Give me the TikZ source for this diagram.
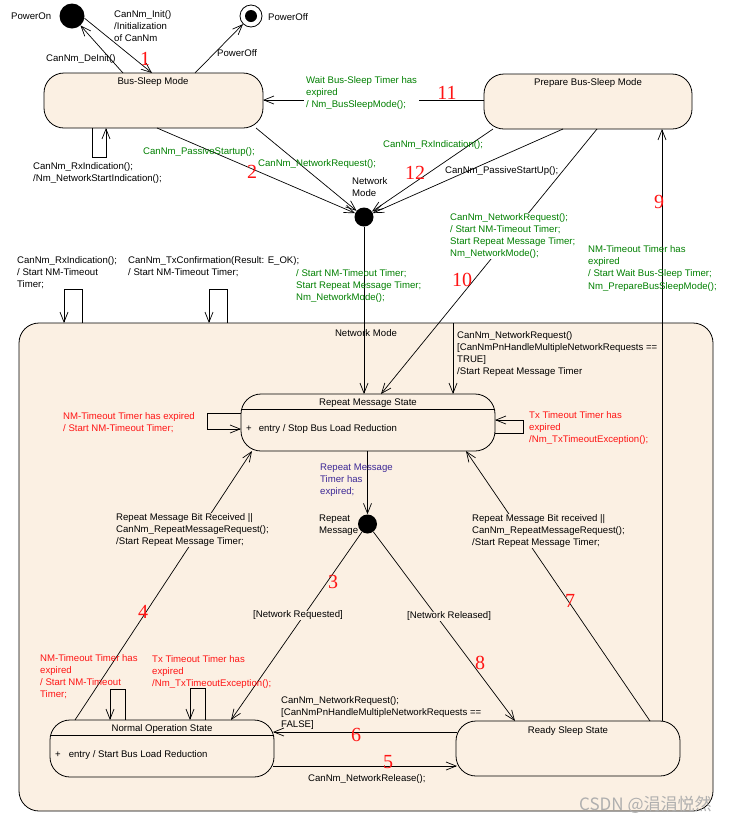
\documentclass[tikz,border=0pt]{standalone}
\usepackage{fontspec}
\setmainfont{Liberation Sans}
\newfontfamily\numfont{Liberation Serif}
\newfontfamily\cjkfont{Noto Sans CJK SC}
\usetikzlibrary{arrows.meta}
\definecolor{bg}{RGB}{251,240,227}
\definecolor{grn}{RGB}{0,128,0}
\definecolor{rd}{RGB}{255,20,20}
\definecolor{pur}{RGB}{60,40,150}
\definecolor{wm}{RGB}{175,175,175}
\begin{document}
\begin{tikzpicture}[x=1pt,y=-1pt,
  txt/.style={font=\fontsize{9.6}{12.2}\selectfont, inner sep=0pt},
  lbl/.style={txt, anchor=base west, align=left},
  num/.style={text=rd, font=\numfont\fontsize{20}{20}\selectfont, inner sep=0pt},
  box/.style={draw, fill=bg, rounded corners=20pt, line width=0.8pt, inner sep=0pt},
  arr/.style={-{Straight Barb[length=10pt,width=8pt]}, line width=0.7pt},
  ln/.style={line width=0.7pt},
  chc/.style={circle, fill=black, inner sep=0pt, minimum size=19pt}]
\useasboundingbox (0,0) rectangle (732,823);
\fill[white] (0,0) rectangle (732,823);

% composite state
\node[box, minimum width=694pt, minimum height=488pt] (nm) at (366,567) {};
\node[txt] (nmt) at (366,333) {Network Mode};

% states
\node[box, minimum width=219pt, minimum height=55pt] (bs) at (153.5,100.5) {};
\node[txt] (bst) at (153,82) {Bus-Sleep Mode};
\node[box, minimum width=208pt, minimum height=55pt] (pbs) at (588,101.5) {};
\node[txt] (pbst) at (588,83) {Prepare Bus-Sleep Mode};
\node[box, minimum width=254pt, minimum height=57pt] (rms) at (368,422.5) {};
\draw[ln] (241,409) -- (495,409);
\node[txt] (rmst) at (368,403.5) {Repeat Message State};
\node[txt, anchor=west] (rmse) at (246,429) {+\hspace{7pt}entry / Stop Bus Load Reduction};
\node[box, minimum width=224pt, minimum height=57pt] (nos) at (162,748.5) {};
\draw[ln] (50,735) -- (274,735);
\node[txt] (nost) at (162,729.5) {Normal Operation State};
\node[txt, anchor=west] (nose) at (55,755) {+\hspace{8pt}entry / Start Bus Load Reduction};
\node[box, minimum width=224pt, minimum height=55pt] (rss) at (568,748.5) {};
\node[txt] (rsst) at (568,731) {Ready Sleep State};

% pseudostates
\node[chc] (nmc) at (364,217) {};
\node[chc] (rmc) at (367.5,524) {};
\node[circle, fill=black, minimum size=25pt, inner sep=0pt] (pon) at (72,16) {};
\node[circle, draw, fill=white, minimum size=22pt, inner sep=0pt, line width=0.8pt] (poff) at (251,16) {};
\node[circle, fill=black, minimum size=12pt, inner sep=0pt] (poffc) at (251,16) {};

% attach points
\coordinate (bsInit) at (152,73);
\coordinate (bsDe) at (123,73);
\coordinate (bsOff) at (195,73);
\coordinate (bsLoopA) at (92,128);
\coordinate (bsLoopIn) at (106,128);
\coordinate (bsE) at (263,100);
\coordinate (pbsW) at (484,100);
\coordinate (bsB1) at (157,128);
\coordinate (bsB2) at (256,128);
\coordinate (pbsB1) at (493,129);
\coordinate (pbsB2) at (563,129);
\coordinate (pbsB3) at (597,129);
\coordinate (pbsB4) at (662,129);
\coordinate (rmsT1) at (364,394);
\coordinate (rmsT2) at (381,394);
\coordinate (rmsT3) at (453,394);
\coordinate (nmT) at (453,323);
\coordinate (nmL1a) at (64,323);
\coordinate (nmL1b) at (82,323);
\coordinate (nmL2a) at (209,323);
\coordinate (nmL2b) at (227,323);
\coordinate (rmsW1) at (241,413);
\coordinate (rmsW2) at (241,429);
\coordinate (rmsE1) at (495,433);
\coordinate (rmsE2) at (495,420);
\coordinate (rmsB) at (367.5,451);
\coordinate (rmsB1) at (252,451);
\coordinate (rmsB2) at (466,451);
\coordinate (nosT1) at (75,720);
\coordinate (nosT2) at (231,720);
\coordinate (nosL1a) at (110,720);
\coordinate (nosL1b) at (125,720);
\coordinate (nosL2a) at (190,720);
\coordinate (nosL2b) at (205,720);
\coordinate (nosE1) at (273,732);
\coordinate (nosE2) at (273,766);
\coordinate (rssT1) at (515,721);
\coordinate (rssT2) at (650,721);
\coordinate (rssT3) at (662,721);
\coordinate (rssW1) at (457,732);
\coordinate (rssW2) at (457,766);

% connectors
\draw[arr] (pon.-10) -- (bsInit);
\draw[arr] (bsDe) -- (pon);
\draw[arr] (bsOff) -- (poff);
\draw[arr] (bsLoopA) -- ++(0,29) -| (bsLoopIn);
\draw[arr] (pbsW) -- (bsE);
\draw[arr] (bsB1) -- (nmc);
\draw[arr] (bsB2) -- (nmc);
\draw[arr] (pbsB1) -- (nmc);
\draw[arr] (pbsB2) -- (nmc);
\draw[arr] (nmc) -- (rmsT1);
\draw[arr] (pbsB3) -- (rmsT2);
\draw[arr] (rssT3) -- (pbsB4);
\draw[arr] (nmT) -- (rmsT3);
\draw[arr] (nmL1b) -- ++(0,-34) -| (nmL1a);
\draw[arr] (nmL2b) -- ++(0,-34) -| (nmL2a);
\draw[arr] (rmsW1) -- ++(-34,0) |- (rmsW2);
\draw[arr] (rmsE1) -- ++(28,0) |- (rmsE2);
\draw[arr] (rmsB) -- (rmc);
\draw[arr] (nosT1) -- (rmsB1);
\draw[arr] (rssT2) -- (rmsB2);
\draw[arr] (rmc) -- (nosT2);
\draw[arr] (rmc) -- (rssT1);
\draw[arr] (nosL1b) -- ++(0,-31) -| (nosL1a);
\draw[arr] (nosL2b) -- ++(0,-32) -| (nosL2a);
\draw[arr] (rssW1) -- (nosE1);
\draw[arr] (nosE2) -- (rssW2);

% labels (y = baseline of the last line)
\node[lbl] (l1) at (11,19.5) {PowerOn};
\node[lbl] (l2) at (268,20) {PowerOff};
\node[lbl] (l3) at (114,41.5) {CanNm\_Init()\\/Initialization\\of CanNm};
\node[lbl] (l4) at (46,61.5) {CanNm\_DeInit()};
\node[lbl] (l5) at (217,56) {PowerOff};
\node[num] (n1) at (145,59) {1};
\node[lbl] (l6) at (33,181.7) {CanNm\_RxIndication();\\/Nm\_NetworkStartIndication();};
\node[lbl, text=grn] (l7) at (143,154) {CanNm\_PassiveStartup();};
\node[lbl, text=grn] (l8) at (258,166.5) {CanNm\_NetworkRequest();};
\node[num] (n2) at (252,172) {2};
\node[lbl, text=grn, fill=white, inner xsep=2pt] (l9) at (304,107.9) {Wait Bus-Sleep Timer has\\expired\\/ Nm\_BusSleepMode();};
\node[num] (n11) at (447,93) {11};
\node[lbl, text=grn] (l10) at (383,147.5) {CanNm\_RxIndication();};
\node[num] (n12) at (415,173) {12};
\node[lbl] (l11) at (445,173.5) {CanNm\_PassiveStartUp();};
\node[lbl] (l12) at (352,196.7) {Network\\Mode};
\node[lbl, text=grn, fill=white, inner xsep=2pt] (l13) at (448,256.6) {CanNm\_NetworkRequest();\\/ Start NM-Timeout Timer;\\Start Repeat Message Timer;\\Nm\_NetworkMode();};
\node[num] (n10) at (462,280) {10};
\node[lbl, text=grn] (l14) at (588,289.1) {NM-Timeout Timer has\\expired\\/ Start Wait Bus-Sleep Timer;\\Nm\_PrepareBusSleepMode();};
\node[num] (n9) at (659,202) {9};
\node[lbl, text=grn] (l15) at (296,300.4) {/ Start NM-Timeout Timer;\\Start Repeat Message Timer;\\Nm\_NetworkMode();};
\node[lbl] (l16) at (17,287.9) {CanNm\_RxIndication();\\/ Start NM-Timeout\\Timer;};
\node[lbl] (l17) at (128,275.7) {CanNm\_TxConfirmation(Result: E\_OK);\\/ Start NM-Timeout Timer;};
\node[lbl] (l18) at (457,374.6) {CanNm\_NetworkRequest()\\{}[CanNmPnHandleMultipleNetworkRequests ==\\TRUE]\\/Start Repeat Message Timer};
\node[lbl, text=rd] (l19) at (63,431.2) {NM-Timeout Timer has expired\\/ Start NM-Timeout Timer;};
\node[lbl, text=rd] (l20) at (529,442.9) {Tx Timeout Timer has\\expired\\/Nm\_TxTimeoutException();};
\node[lbl, text=pur] (l21) at (320,494.4) {Repeat Message\\Timer has\\expired;};
\node[lbl] (l22) at (319,533.2) {Repeat\\Message};
\node[lbl, fill=bg] (l23) at (116,544.6) {Repeat Message Bit Received ||\\CanNm\_RepeatMessageRequest();\\/Start Repeat Message Timer;};
\node[num] (n4) at (143,612) {4};
\node[lbl, fill=bg] (l24) at (472,545.6) {Repeat Message Bit received ||\\CanNm\_RepeatMessageRequest();\\/Start Repeat Message Timer;};
\node[num] (n7) at (570,601) {7};
\node[lbl, fill=bg, inner xsep=1pt] (l25) at (252,617.5) {{[}Network Requested{]}};
\node[num] (n3) at (333,582) {3};
\node[lbl, fill=bg, inner xsep=1pt] (l26) at (406,618.5) {{[}Network Released{]}};
\node[num] (n8) at (480,663) {8};
\node[lbl, text=rd] (l27) at (40,697.6) {NM-Timeout Timer has\\expired\\/ Start NM-Timeout\\Timer;};
\node[lbl, text=rd] (l28) at (152,686.4) {Tx Timeout Timer has\\expired\\/Nm\_TxTimeoutException();};
\node[lbl] (l29) at (281,727.9) {CanNm\_NetworkRequest();\\{}[CanNmPnHandleMultipleNetworkRequests ==\\FALSE]};
\node[num] (n6) at (356,735) {6};
\node[num] (n5) at (388,762) {5};
\node[lbl] (l30) at (308,781.5) {CanNm\_NetworkRelease();};
\node[anchor=west, inner sep=0pt, text=wm, font=\cjkfont\fontsize{17}{17}\selectfont] (wmk) at (579,805) {CSDN @涓涓悦然};
\end{tikzpicture}
\end{document}
